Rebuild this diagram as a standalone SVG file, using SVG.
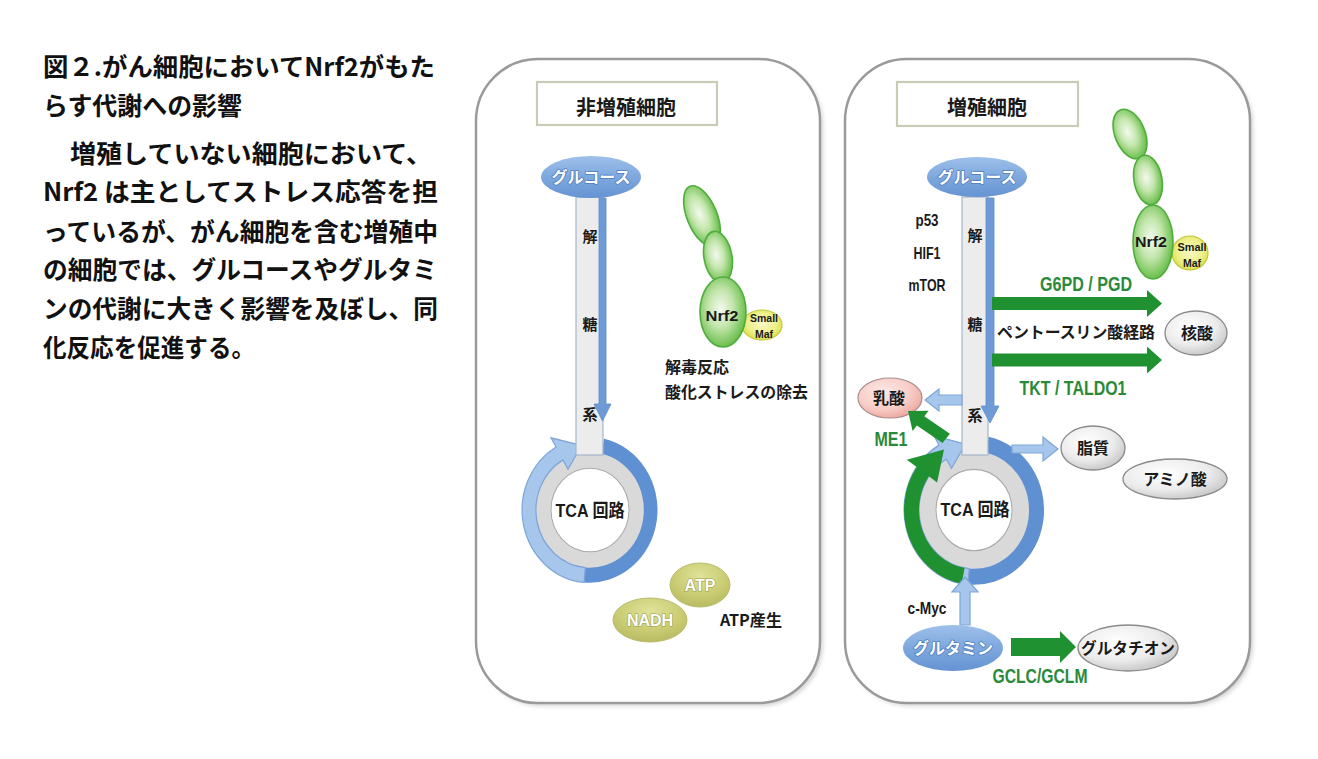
<svg xmlns="http://www.w3.org/2000/svg" width="1318" height="759" viewBox="0 0 1318 759">
<defs>
<style>
.cap{font-family:"Noto Sans CJK JP","Noto Sans",sans-serif;font-weight:bold;font-size:25px;fill:#111}
.jp{font-family:"Noto Sans CJK JP","Noto Sans",sans-serif;font-weight:bold;fill:#1a1a1a}
.lat{font-family:"Liberation Sans","Noto Sans CJK JP",sans-serif;font-weight:bold;fill:#1a1a1a}
.grn{fill:#2b8a3a}
.wt{fill:#ffffff;stroke:#4f7fbf;stroke-width:1.6px;paint-order:stroke;stroke-linejoin:round}
.wt2{fill:#ffffff;stroke:#9aa04a;stroke-width:1.2px;paint-order:stroke}
.panel{fill:#ffffff;stroke:#9a9a9a;stroke-width:2.5}
.shadow{fill:#d5d5d5}
.title{fill:#ffffff;stroke:#c7ccb6;stroke-width:2.2}
.bar{fill:#ececec;stroke:#a6b6ca;stroke-width:1.2}
.down{fill:#6e9bd6;stroke:#5f8dcc;stroke-width:0.8}
.lb{fill:#a6c6ec;stroke:#7ea5d8;stroke-width:1.2}
.db{fill:#5f90d1}
.ga{fill:#1f9130}
.greyring{fill:#d9d9d9;stroke:#c6c6c6;stroke-width:1}
.hole{fill:#ffffff;stroke:#aaaaaa;stroke-width:1}
.gnode{fill:url(#gGrey);stroke:#8a8a8a;stroke-width:1.3}
.nrf{fill:url(#gNrf);stroke:#4fae3c;stroke-width:1.6}
.maf{fill:url(#gMaf);stroke:#c4c83a;stroke-width:1.2}
.blue{fill:url(#gBlue)}
.olive{fill:url(#gOlive);stroke:#b9bc6a;stroke-width:1}
</style>
<radialGradient id="gGrey" cx="0.4" cy="0.35" r="0.7">
<stop offset="0" stop-color="#ffffff"/><stop offset="0.6" stop-color="#ececec"/><stop offset="1" stop-color="#c4c4c4"/>
</radialGradient>
<radialGradient id="gPink" cx="0.4" cy="0.35" r="0.7">
<stop offset="0" stop-color="#fde9e6"/><stop offset="0.6" stop-color="#f8cdc7"/><stop offset="1" stop-color="#eba59d"/>
</radialGradient>
<radialGradient id="gNrf" cx="0.45" cy="0.45" r="0.6">
<stop offset="0" stop-color="#f3faef"/><stop offset="0.45" stop-color="#c4e6ad"/><stop offset="1" stop-color="#5cb83c"/>
</radialGradient>
<radialGradient id="gMaf" cx="0.5" cy="0.45" r="0.6">
<stop offset="0" stop-color="#f8f8c8"/><stop offset="0.6" stop-color="#eef08a"/><stop offset="1" stop-color="#d6da3a"/>
</radialGradient>
<linearGradient id="gBlue" x1="0" y1="0" x2="0" y2="1">
<stop offset="0" stop-color="#9ec0ea"/><stop offset="0.5" stop-color="#7ea8de"/><stop offset="1" stop-color="#6593d2"/>
</linearGradient>
<radialGradient id="gOlive" cx="0.5" cy="0.3" r="0.7">
<stop offset="0" stop-color="#dfe29a"/><stop offset="0.6" stop-color="#cacd74"/><stop offset="1" stop-color="#b8bb62"/>
</radialGradient>
<filter id="soft" x="-5%" y="-5%" width="110%" height="110%"><feGaussianBlur stdDeviation="2"/></filter>
</defs>
<rect width="1318" height="759" fill="#ffffff"/>

<g id="caption">
<text class="cap" x="43" y="76" textLength="392" lengthAdjust="spacingAndGlyphs">図２.がん細胞においてNrf2がもた</text>
<text class="cap" x="43" y="115" textLength="199" lengthAdjust="spacingAndGlyphs">らす代謝への影響</text>
<text class="cap" x="70" y="163" textLength="362" lengthAdjust="spacingAndGlyphs">増殖していない細胞において、</text>
<text class="cap" x="43" y="201" textLength="395" lengthAdjust="spacingAndGlyphs">Nrf2 は主としてストレス応答を担</text>
<text class="cap" x="43" y="241" textLength="395" lengthAdjust="spacingAndGlyphs">っているが、がん細胞を含む増殖中</text>
<text class="cap" x="43" y="279" textLength="394" lengthAdjust="spacingAndGlyphs">の細胞では、グルコースやグルタミ</text>
<text class="cap" x="43" y="318" textLength="395" lengthAdjust="spacingAndGlyphs">ンの代謝に大きく影響を及ぼし、同</text>
<text class="cap" x="43" y="357" textLength="212" lengthAdjust="spacingAndGlyphs">化反応を促進する。</text>
</g>

<g id="panel-left">
<rect class="shadow" x="479" y="62" width="344" height="644" rx="62" filter="url(#soft)"/>
<rect class="panel" x="476" y="59" width="344" height="644" rx="62"/>
<rect class="title" x="537" y="82" width="180" height="43"/>
<text class="jp" x="626" y="115" font-size="20" text-anchor="middle">非増殖細胞</text>
</g>

<g id="panel-right">
<rect class="shadow" x="848" y="62" width="405" height="644" rx="62" filter="url(#soft)"/>
<rect class="panel" x="845" y="59" width="405" height="644" rx="62"/>
<rect class="title" x="897" y="82" width="181" height="44"/>
<text class="jp" x="987" y="114.5" font-size="20" text-anchor="middle">増殖細胞</text>
</g>

<g id="tca-left">
<g transform="translate(590,510) scale(1,1.07)">
<circle class="greyring" r="55"/>
<circle class="hole" r="39"/>
<path class="db" d="M14.1,-66.5 A68,68 0 0 1 -5.9,67.7 L-4.7,53.8 A54,54 0 0 0 11.2,-52.8 Z"/>
<path class="lb" d="M-5.9,67.7 A68,68 0 0 1 -34,-58.9 L-39,-67.5 L-8.5,-60.4 L-22,-38.1 L-27,-46.8 A54,54 0 0 0 -4.7,53.8 Z"/>
</g>
<text class="lat" x="590" y="517" font-size="18" text-anchor="middle" textLength="69" lengthAdjust="spacingAndGlyphs">TCA 回路</text>
</g>

<g id="glycolysis-left">
<rect class="bar" x="576" y="197" width="27" height="258"/>
<text class="jp" x="590" y="242" font-size="15" text-anchor="middle">解</text>
<text class="jp" x="590" y="330" font-size="15" text-anchor="middle">糖</text>
<text class="jp" x="590" y="420" font-size="15" text-anchor="middle">系</text>
</g>

<g id="glucose-left">
<ellipse class="blue" cx="591" cy="177" rx="50" ry="21"/>
<text class="jp wt" x="591" y="183" font-size="16" text-anchor="middle">グルコース</text>
</g>

<g id="nrf2-left">
<ellipse class="nrf" cx="702" cy="216" rx="15" ry="32" transform="rotate(-22 702 216)"/>
<ellipse class="nrf" cx="718" cy="257" rx="14" ry="26" transform="rotate(-10 718 257)"/>
<ellipse class="maf" cx="762" cy="325" rx="20" ry="15"/>
<ellipse class="nrf" cx="723" cy="312" rx="23" ry="35"/>
<text class="lat" x="722" y="321" font-size="15" text-anchor="middle" textLength="33" lengthAdjust="spacingAndGlyphs">Nrf2</text>
<text class="lat" x="764" y="322" font-size="10.5" text-anchor="middle" textLength="28" lengthAdjust="spacingAndGlyphs">Small</text>
<text class="lat" x="764" y="338" font-size="10.5" text-anchor="middle">Maf</text>
<text class="jp" x="665" y="373" font-size="16">解毒反応</text>
<text class="jp" x="665" y="398" font-size="16" textLength="143" lengthAdjust="spacingAndGlyphs">酸化ストレスの除去</text>
</g>

<g id="atp-left">
<ellipse class="olive" cx="700" cy="585" rx="30" ry="22"/>
<ellipse class="olive" cx="650" cy="620" rx="37" ry="22"/>
<text class="lat wt2" x="700" y="591" font-size="16" text-anchor="middle">ATP</text>
<text class="lat wt2" x="650" y="626" font-size="16" text-anchor="middle">NADH</text>
<text class="jp" x="751" y="626" font-size="16" text-anchor="middle" textLength="62" lengthAdjust="spacingAndGlyphs">ATP産生</text>
</g>

<g id="tca-right">
<g transform="translate(974,510) scale(1,1.07)">
<circle class="greyring" r="56"/>
<circle class="hole" r="38"/>
<path class="db" d="M14.6,-68.5 A70,70 0 0 1 -6.1,69.7 L-4.8,54.8 A55,55 0 0 0 11.4,-53.8 Z"/>
<path class="lb" d="M-6.1,69.7 A70,70 0 0 1 -35,-60.6 L-40,-69.3 L-8.5,-61.5 L-22.5,-39 L-27.5,-47.6 A55,55 0 0 0 -4.8,54.8 Z"/>
<path class="ga" d="M-12.2,68.9 A70,70 0 0 1 -57.3,-40.2 L-67.2,-47 L-30,-56.5 L-36.9,-25.8 L-45.1,-31.5 A55,55 0 0 0 -9.5,54.2 Z"/>
</g>
<text class="lat" x="975" y="516" font-size="18" text-anchor="middle" textLength="69" lengthAdjust="spacingAndGlyphs">TCA 回路</text>
</g>

<g id="glycolysis-right">
<rect class="bar" x="962" y="197" width="26" height="258"/>
<text class="jp" x="975" y="241" font-size="15" text-anchor="middle">解</text>
<text class="jp" x="975" y="330" font-size="15" text-anchor="middle">糖</text>
<text class="jp" x="975" y="421" font-size="15" text-anchor="middle">系</text>
<text class="lat" x="927" y="226" font-size="17" text-anchor="middle" textLength="23" lengthAdjust="spacingAndGlyphs">p53</text>
<text class="lat" x="927" y="259" font-size="17" text-anchor="middle" textLength="27" lengthAdjust="spacingAndGlyphs">HIF1</text>
<text class="lat" x="927" y="291" font-size="17" text-anchor="middle" textLength="37" lengthAdjust="spacingAndGlyphs">mTOR</text>
</g>

<g id="glucose-right">
<ellipse class="blue" cx="977" cy="177" rx="50" ry="20"/>
<text class="jp wt" x="977" y="183" font-size="16" text-anchor="middle">グルコース</text>
</g>

<g id="nrf2-right">
<ellipse class="nrf" cx="1130" cy="134" rx="15" ry="26" transform="rotate(-22 1130 134)"/>
<ellipse class="nrf" cx="1148" cy="180" rx="14" ry="25" transform="rotate(-10 1148 180)"/>
<ellipse class="maf" cx="1190" cy="253" rx="18" ry="17"/>
<ellipse class="nrf" cx="1153" cy="242" rx="20" ry="37"/>
<text class="lat" x="1151" y="247" font-size="15" text-anchor="middle" textLength="32" lengthAdjust="spacingAndGlyphs">Nrf2</text>
<text class="lat" x="1192" y="250.5" font-size="10.5" text-anchor="middle" textLength="29" lengthAdjust="spacingAndGlyphs">Small</text>
<text class="lat" x="1192" y="266.5" font-size="10.5" text-anchor="middle">Maf</text>
</g>

<g id="nucleic-acid">
<ellipse class="gnode" cx="1196" cy="333" rx="31" ry="22"/>
<text class="jp" x="1197" y="339" font-size="16" text-anchor="middle">核酸</text>
</g>
<g id="lactate">
<ellipse cx="890" cy="398" rx="32" ry="20" fill="url(#gPink)" stroke="#a88c8c" stroke-width="1.2"/>
<text class="jp" x="889" y="404" font-size="16" text-anchor="middle">乳酸</text>
</g>
<g id="lipid">
<ellipse class="gnode" cx="1093" cy="448" rx="32" ry="22"/>
<text class="jp" x="1093" y="454" font-size="16" text-anchor="middle">脂質</text>
</g>
<g id="amino-acid">
<ellipse class="gnode" cx="1175" cy="479" rx="52" ry="20"/>
<text class="jp" x="1175" y="485" font-size="16" text-anchor="middle">アミノ酸</text>
</g>
<g id="glutamine">
<ellipse class="blue" cx="953" cy="648" rx="50" ry="23"/>
<text class="jp wt" x="953" y="654" font-size="16" text-anchor="middle">グルタミン</text>
</g>
<g id="glutathione">
<ellipse class="gnode" cx="1128" cy="648" rx="50" ry="23"/>
<text class="jp" x="1128" y="654" font-size="16" text-anchor="middle" textLength="94" lengthAdjust="spacingAndGlyphs">グルタチオン</text>
</g>

<g id="connectors">
<polygon class="down" points="599,198 606,198 606,404 611,404 602.5,421 594,404 599,404"/>
<polygon class="down" points="986,198 994,198 994,406 999,406 990,423 981,406 986,406"/>
<polygon class="ga" points="992,297 1147,297 1147,290 1162,303.5 1147,317 1147,310 992,310"/>
<polygon class="ga" points="992,353.5 1147,353.5 1147,346.5 1162,360 1147,373.5 1147,366.5 992,366.5"/>
<polygon class="lb" points="962,395 939,395 939,389 925,400 939,411 939,405 962,405"/>
<polygon class="ga" points="949.9,433.7 924.3,416.2 928.6,410.7 908,411 912.6,431.1 916.9,425.6 942.5,443.1"/>
<polygon class="lb" points="1012,445 1043,445 1043,437 1058,449 1043,461 1043,453 1012,453"/>
<polygon class="lb" points="960,625 960,592 952,592 965,577 978,592 970,592 970,625"/>
<polygon class="ga" points="1011,638 1060,638 1060,631 1076,647 1060,663 1060,656 1011,656"/>
</g>

<g id="connector-labels">
<text class="lat grn" x="1086" y="291" font-size="21" text-anchor="middle" textLength="92" lengthAdjust="spacingAndGlyphs">G6PD / PGD</text>
<text class="jp" x="1076" y="338" font-size="16" text-anchor="middle" textLength="158" lengthAdjust="spacingAndGlyphs">ペントースリン酸経路</text>
<text class="lat grn" x="1073" y="395" font-size="21" text-anchor="middle" textLength="107" lengthAdjust="spacingAndGlyphs">TKT / TALDO1</text>
<text class="lat grn" x="891" y="446" font-size="21" text-anchor="middle" textLength="33" lengthAdjust="spacingAndGlyphs">ME1</text>
<text class="lat" x="927" y="614" font-size="17" text-anchor="middle" textLength="39" lengthAdjust="spacingAndGlyphs">c-Myc</text>
<text class="lat grn" x="1040" y="683" font-size="21" text-anchor="middle" textLength="95" lengthAdjust="spacingAndGlyphs">GCLC/GCLM</text>
</g>
</svg>
